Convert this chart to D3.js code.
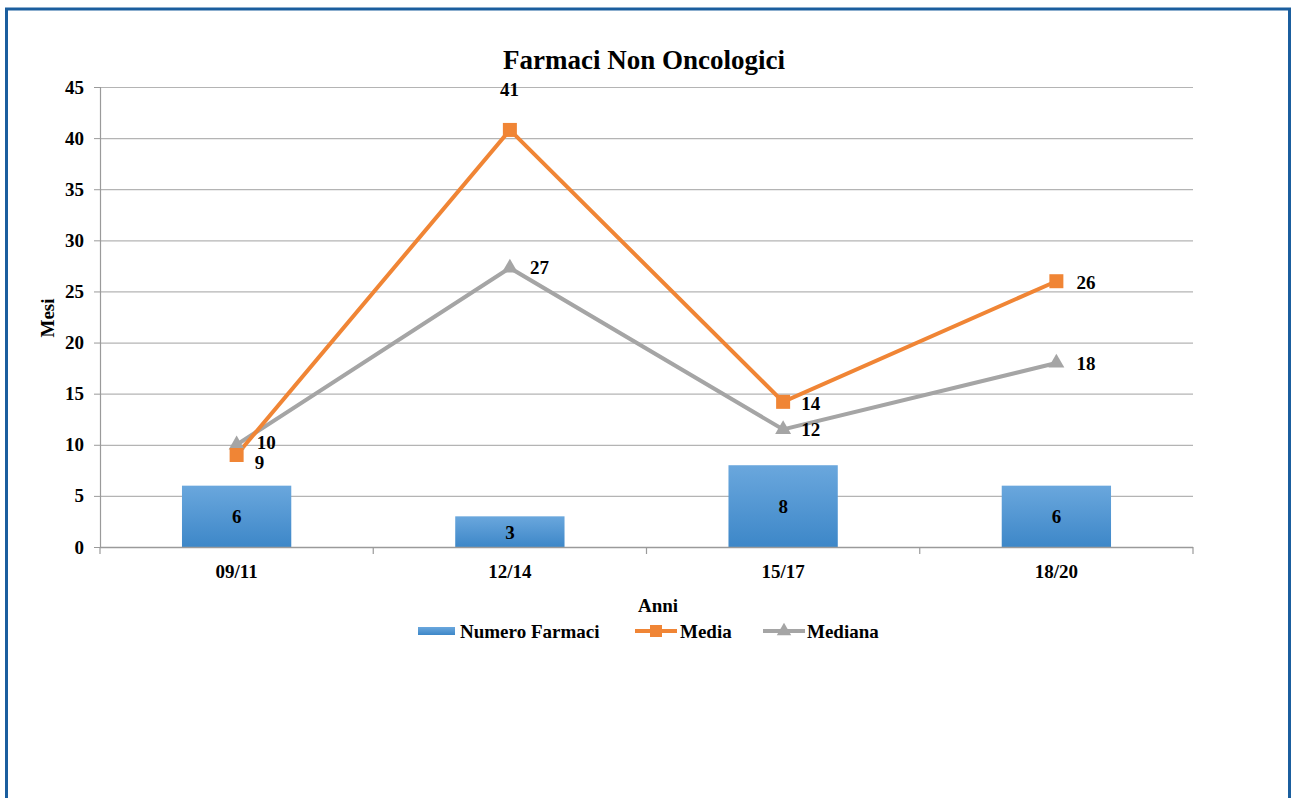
<!DOCTYPE html>
<html><head><meta charset="utf-8">
<script src="https://cdn.jsdelivr.net/npm/d3@7"></script>
<style>
body{margin:0;background:#fff;}
text{font-family:"Liberation Serif","Times New Roman",serif;font-weight:bold;fill:#000;}
</style></head>
<body><svg id="chart" width="1292" height="798"></svg>
<script>
const categories = ["09/11","12/14","15/17","18/20"];
const numeroFarmaci = [6,3,8,6];
const media = [9,40.8,14.2,26];
const mediana = [10,27.3,11.5,18];
const yTicks = [0,5,10,15,20,25,30,35,40,45];
const title = "Farmaci Non Oncologici";
const yTitle = "Mesi";
const xTitle = "Anni";
const seriesNames = ["Numero Farmaci","Media","Mediana"];

const FS = 19;
const svg = d3.select("#chart");
const defs = svg.append("defs");
const grad = defs.append("linearGradient").attr("id","barGrad").attr("x1",0).attr("y1",0).attr("x2",0).attr("y2",1);
grad.append("stop").attr("offset","0%").attr("stop-color","#6aa7dd");
grad.append("stop").attr("offset","100%").attr("stop-color","#3d87c8");

// frame
svg.append("rect").attr("x",6.5).attr("y",9).attr("width",1283).attr("height",800)
  .attr("fill","none").attr("stroke","#1b5e9e").attr("stroke-width",3);

const L=100,R=1193,T=87,B=547;
const x = d3.scaleBand().domain(categories).range([L,R]);
const y = d3.scaleLinear().domain([0,45]).range([B,T]);

// gridlines
svg.append("g").selectAll("line").data(yTicks.filter(d=>d>0)).join("line")
  .attr("x1",L).attr("x2",R).attr("y1",d=>y(d)+0.5).attr("y2",d=>y(d)+0.5)
  .attr("stroke","#b4b4b4").attr("stroke-width",1.2);

// y axis
const yAxis = svg.append("g").attr("transform",`translate(${L},0)`)
  .call(d3.axisLeft(y).tickValues(yTicks).tickSize(6).tickPadding(10));
yAxis.select(".domain").attr("stroke","#9a9a9a").attr("stroke-width",1.2);
yAxis.selectAll(".tick line").attr("stroke","#9a9a9a");
yAxis.selectAll("text").attr("font-size",FS).attr("font-family","Liberation Serif").attr("font-weight","bold").attr("fill","#000");

// bars
svg.append("g").selectAll("rect").data(numeroFarmaci).join("rect")
  .attr("x",(d,i)=>x(categories[i])+x.bandwidth()*0.3)
  .attr("width",x.bandwidth()*0.4)
  .attr("y",d=>y(d)).attr("height",d=>B-y(d))
  .attr("fill","url(#barGrad)");
svg.append("g").selectAll("text").data(numeroFarmaci).join("text")
  .attr("x",(d,i)=>x(categories[i])+x.bandwidth()/2)
  .attr("y",d=>(y(d)+B)/2+7)
  .attr("text-anchor","middle").attr("font-size",FS).text(d=>d);

// x axis
const xAxisG = svg.append("g").attr("transform",`translate(0,${B})`);
xAxisG.append("line").attr("x1",L).attr("x2",R).attr("y1",0.5).attr("y2",0.5).attr("stroke","#9a9a9a").attr("stroke-width",1.5);
const bounds = categories.map(c=>x(c)).concat([R]);
xAxisG.selectAll(".tk").data(bounds).join("line").attr("class","tk")
  .attr("x1",d=>d).attr("x2",d=>d).attr("y1",0).attr("y2",7).attr("stroke","#9a9a9a").attr("stroke-width",1.2);
xAxisG.selectAll(".lbl").data(categories).join("text").attr("class","lbl")
  .attr("x",d=>x(d)+x.bandwidth()/2).attr("y",31).attr("text-anchor","middle").attr("font-size",FS).text(d=>d);

const cx = i => x(categories[i])+x.bandwidth()/2;
const lineGen = d3.line().x((d,i)=>cx(i)).y(d=>y(d));

// mediana line
svg.append("path").datum(mediana).attr("d",lineGen).attr("fill","none").attr("stroke","#a5a5a5").attr("stroke-width",4);
// media line
svg.append("path").datum(media).attr("d",lineGen).attr("fill","none").attr("stroke","#f08535").attr("stroke-width",4);

const tri = d3.symbol().type(d3.symbolTriangle).size(110);
svg.append("g").selectAll("path").data(mediana).join("path")
  .attr("d",tri).attr("transform",(d,i)=>`translate(${cx(i)},${y(d)})`).attr("fill","#a5a5a5");
svg.append("g").selectAll("rect").data(media).join("rect")
  .attr("x",(d,i)=>cx(i)-7).attr("y",d=>y(d)-7).attr("width",14).attr("height",14).attr("fill","#f08535");

const fmt = d3.format(".0f");
// media labels
const mediaOff = [[18,14],[-10,-34],[18,8],[20,8]];
svg.append("g").selectAll("text").data(media).join("text")
  .attr("x",(d,i)=>cx(i)+mediaOff[i][0]).attr("y",(d,i)=>y(d)+mediaOff[i][1])
  .attr("font-size",FS).text(d=>fmt(d));
// mediana labels
const medOff = [[20,4],[20,6],[18,7],[20,7]];
svg.append("g").selectAll("text").data(mediana).join("text")
  .attr("x",(d,i)=>cx(i)+medOff[i][0]).attr("y",(d,i)=>y(d)+medOff[i][1])
  .attr("font-size",FS).text(d=>fmt(d));

// title
svg.append("text").attr("x",644).attr("y",69).attr("text-anchor","middle").attr("font-size",27).text(title);
svg.append("text").attr("transform","translate(54,318) rotate(-90)").attr("text-anchor","middle").attr("font-size",FS).text(yTitle);
svg.append("text").attr("x",658).attr("y",612).attr("text-anchor","middle").attr("font-size",FS).text(xTitle);

// legend
const lg = svg.append("g");
lg.append("rect").attr("x",418).attr("y",627).attr("width",37).attr("height",8).attr("fill","url(#barGrad)");
lg.append("text").attr("x",460).attr("y",638).attr("font-size",FS).text(seriesNames[0]);
lg.append("line").attr("x1",635).attr("x2",677).attr("y1",631).attr("y2",631).attr("stroke","#f08535").attr("stroke-width",4);
lg.append("rect").attr("x",650).attr("y",625).attr("width",12).attr("height",12).attr("fill","#f08535");
lg.append("text").attr("x",680).attr("y",638).attr("font-size",FS).text(seriesNames[1]);
lg.append("line").attr("x1",763).attr("x2",805).attr("y1",631).attr("y2",631).attr("stroke","#a5a5a5").attr("stroke-width",4);
lg.append("path").attr("d",d3.symbol().type(d3.symbolTriangle).size(90)).attr("transform","translate(784,631)").attr("fill","#a5a5a5");
lg.append("text").attr("x",807).attr("y",638).attr("font-size",FS).text(seriesNames[2]);
</script></body></html>
